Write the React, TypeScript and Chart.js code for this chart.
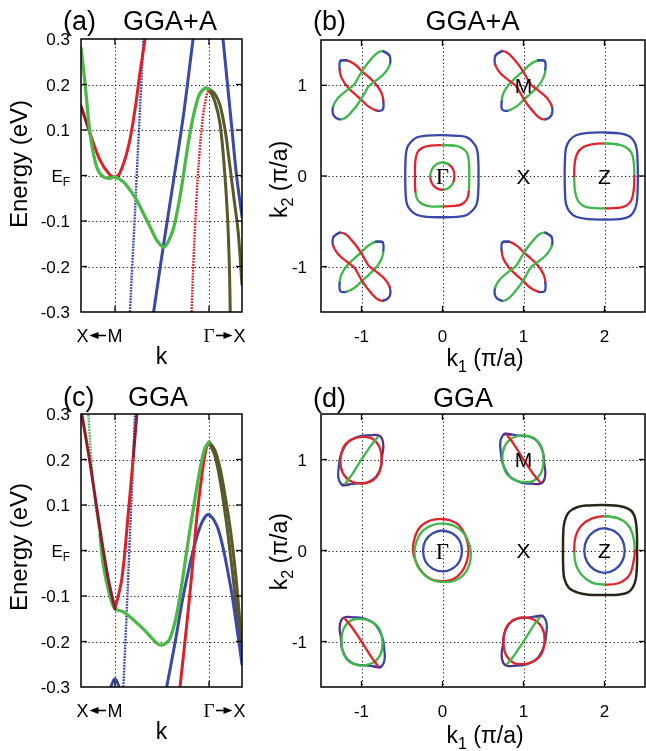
import React, { useEffect, useRef } from "react";
import { Chart, registerables } from "chart.js";

Chart.register(...registerables);

type P = [number, number];

// ================= Band-structure panels (a) and (c) =================
const kRange: P = [0, 1];
const energyRange: P = [-0.3, 0.3];
const kTicks = [0.211, 0.795]; // positions of M and Γ on the k path
const energyTicks = [-0.3, -0.2, -0.1, 0, 0.1, 0.2, 0.3];
const energyTickLabels = ["-0.3", "-0.2", "-0.1", "EF", "0.1", "0.2", "0.3"];

// (a) GGA+A  [k, E (eV)]
const aGreen: P[] = [[0, 0.28], [0.025, 0.203], [0.056, 0.093], [0.097, 0.019], [0.138, -0.003], [0.18, -0.006], [0.211, -0.003], [0.263, -0.014], [0.3, -0.03], [0.346, -0.054], [0.39, -0.085], [0.428, -0.112], [0.47, -0.142], [0.505, -0.156], [0.522, -0.156], [0.545, -0.143], [0.573, -0.118], [0.6, -0.075], [0.625, -0.025], [0.677, 0.093], [0.729, 0.173], [0.77, 0.192], [0.795, 0.19]];
const aRedM: P[] = [[0, 0.153], [0.056, 0.093], [0.118, 0.034], [0.18, 0.001], [0.211, -0.003], [0.242, 0.006], [0.294, 0.063], [0.335, 0.144], [0.366, 0.225], [0.398, 0.3]];
const aRedG: P[] = [[0.687, -0.3], [0.698, -0.193], [0.718, -0.047], [0.739, 0.063], [0.76, 0.137], [0.781, 0.177], [0.795, 0.19]];
const aBlueSteep: P[] = [[0.304, -0.3], [0.318, -0.2], [0.333, -0.1], [0.346, 0], [0.36, 0.1], [0.374, 0.2], [0.388, 0.3]];
const aBlueMid: P[] = [[0.451, -0.3], [0.511, -0.156], [0.573, -0.015], [0.635, 0.129], [0.696, 0.3]];
const aBlueRight: P[] = [[0.882, 0.3], [0.91, 0.2], [0.938, 0.1], [0.966, 0.0], [1.0, -0.09]];
const aOlive1: P[] = [[0.797, 0.19], [0.832, 0.162], [0.863, 0.115], [0.888, 0.027], [0.909, -0.083], [0.921, -0.193], [0.927, -0.3]];
const aOlive2: P[] = [[0.795, 0.19], [0.83, 0.18], [0.863, 0.155], [0.895, 0.1], [0.925, 0.02], [0.95, -0.05], [0.977, -0.127], [1.0, -0.24]];

// (c) GGA  [k, E (eV)]
const cMaroon: P[] = [[0, 0.31], [0.056, 0.193], [0.118, 0.046], [0.17, -0.064], [0.211, -0.128]];
const cRedM: P[] = [[0.211, -0.128], [0.253, -0.064], [0.294, 0.083], [0.325, 0.207], [0.346, 0.296], [0.35, 0.31]];
const cGreenSteep: P[] = [[0.045, 0.305], [0.066, 0.19], [0.09, 0.1], [0.118, 0.035]];
const cGreen: P[] = [[0.118, 0.035], [0.139, -0.034], [0.18, -0.1], [0.211, -0.128], [0.263, -0.135], [0.325, -0.152], [0.38, -0.17], [0.429, -0.188], [0.475, -0.205], [0.501, -0.208], [0.53, -0.203], [0.553, -0.193], [0.585, -0.155], [0.615, -0.1], [0.677, 0.046], [0.739, 0.178], [0.77, 0.225], [0.795, 0.238]];
const cBlueSteep: P[] = [[0.263, -0.3], [0.282, -0.15], [0.3, 0.0], [0.318, 0.15], [0.335, 0.3]];
const cBlueSmall: P[] = [[0.185, -0.3], [0.2, -0.287], [0.211, -0.282], [0.222, -0.287], [0.237, -0.3]];
const cBlue: P[] = [[0.532, -0.3], [0.584, -0.203], [0.635, -0.1], [0.698, 0.002], [0.75, 0.061], [0.793, 0.079], [0.853, 0.046], [0.925, -0.071], [0.96, -0.15], [1.0, -0.25]];
const cRed: P[] = [[0.615, -0.3], [0.656, -0.166], [0.687, -0.056], [0.718, 0.068], [0.75, 0.163], [0.776, 0.222], [0.795, 0.238]];
const cOlive1: P[] = [[0.795, 0.238], [0.83, 0.21], [0.863, 0.156], [0.9, 0.07], [0.925, 0.0], [0.946, -0.064], [0.975, -0.16], [1.0, -0.245]];
const cOlive2: P[] = [[0.795, 0.238], [0.83, 0.222], [0.863, 0.182], [0.9, 0.11], [0.93, 0.04], [0.96, -0.05], [0.985, -0.15], [1.0, -0.235]];

// ================= Fermi-surface panels (b) and (d) =================
const k1Range: P = [-1.5, 2.5];
const k2Range: P = [-1.5, 1.5];
const k1Ticks = [-1, 0, 1, 2];
const k1TickLabels = ["-1", "0", "1", "2"];
const k2Ticks = [-1, 0, 1];
const k2TickLabels = ["-1", "0", "1"];
const symLabels = ["Γ", "X", "Z", "M"];
const symK1 = [0, 1, 2, 1];
const symK2 = [0, 0, 0, 1];
const gammaCenter: P = [0, 0];
const zCenter: P = [2, 0];
const mCenters: P[] = [[-1, 1], [1, 1], [-1, -1], [1, -1]];

// contour offsets from their centre (k1, k2)
const petalLong: P[] = [[0.27, 0.375], [0.345, 0.33], [0.35, 0.23], [0.29, 0.14], [0.19, 0.06], [0.09, -0.01], [0.03, -0.1], [-0.04, -0.2], [-0.12, -0.29], [-0.2, -0.36], [-0.27, -0.375], [-0.345, -0.33], [-0.35, -0.23], [-0.29, -0.14], [-0.19, -0.06], [-0.09, 0.01], [-0.03, 0.1], [0.04, 0.2], [0.12, 0.29], [0.2, 0.36]];
const petalShort: P[] = [[-0.26, 0.27], [-0.18, 0.275], [-0.08, 0.23], [0.0, 0.16], [0.09, 0.09], [0.18, 0.01], [0.25, -0.09], [0.27, -0.18], [0.26, -0.27], [0.18, -0.275], [0.08, -0.23], [0.0, -0.16], [-0.09, -0.09], [-0.18, -0.01], [-0.25, 0.09], [-0.27, 0.18]];
const gammaOuterB: P[] = [[0, 0.45], [0.2, 0.443], [0.31, 0.423], [0.372, 0.375], [0.42, 0.31], [0.44, 0.2], [0.445, 0], [0.44, -0.2], [0.42, -0.315], [0.37, -0.38], [0.3, -0.43], [0.19, -0.45], [0, -0.455], [-0.2, -0.45], [-0.32, -0.428], [-0.39, -0.38], [-0.437, -0.315], [-0.455, -0.2], [-0.46, 0], [-0.455, 0.2], [-0.437, 0.31], [-0.39, 0.375], [-0.32, 0.425], [-0.2, 0.445]];
const gammaMidB: P[] = [[0, 0.34], [0.15, 0.335], [0.24, 0.31], [0.3, 0.26], [0.325, 0.17], [0.33, 0], [0.325, -0.17], [0.3, -0.26], [0.24, -0.31], [0.15, -0.33], [0, -0.335], [-0.15, -0.335], [-0.25, -0.31], [-0.31, -0.26], [-0.335, -0.17], [-0.34, 0], [-0.335, 0.17], [-0.31, 0.26], [-0.25, 0.31], [-0.15, 0.335]];
const gammaInB: P[] = [[0, 0.15], [0.075, 0.13], [0.13, 0.075], [0.147, 0], [0.13, -0.077], [0.075, -0.133], [0, -0.154], [-0.077, -0.133], [-0.133, -0.077], [-0.152, 0], [-0.13, 0.075], [-0.075, 0.13]];
const zOuterB: P[] = [[0, 0.48], [0.19, 0.47], [0.3, 0.44], [0.36, 0.39], [0.395, 0.31], [0.408, 0.18], [0.412, 0], [0.408, -0.18], [0.395, -0.31], [0.36, -0.395], [0.3, -0.45], [0.19, -0.475], [0, -0.48], [-0.21, -0.475], [-0.35, -0.45], [-0.43, -0.395], [-0.475, -0.31], [-0.488, -0.18], [-0.492, 0], [-0.488, 0.18], [-0.475, 0.31], [-0.43, 0.395], [-0.35, 0.45], [-0.21, 0.475]];
const zMidB: P[] = [[0, 0.36], [0.16, 0.35], [0.26, 0.32], [0.33, 0.26], [0.36, 0.16], [0.368, 0], [0.36, -0.16], [0.33, -0.27], [0.26, -0.33], [0.16, -0.352], [0, -0.356], [-0.16, -0.352], [-0.26, -0.33], [-0.33, -0.27], [-0.365, -0.16], [-0.374, 0], [-0.365, 0.16], [-0.33, 0.26], [-0.26, 0.32], [-0.16, 0.35]];

const gammaRedD: P[] = [[-0.02, 0.348], [0.1, 0.33], [0.2, 0.28], [0.28, 0.17], [0.32, 0.02], [0.3, -0.12], [0.23, -0.245], [0.12, -0.32], [0, -0.337], [-0.13, -0.32], [-0.25, -0.24], [-0.33, -0.12], [-0.366, 0], [-0.34, 0.15], [-0.27, 0.265], [-0.15, 0.33]];
const gammaGreenD: P[] = [[0, 0.297], [0.12, 0.28], [0.23, 0.22], [0.31, 0.12], [0.35, -0.02], [0.33, -0.16], [0.26, -0.27], [0.14, -0.335], [0.02, -0.348], [-0.11, -0.33], [-0.22, -0.27], [-0.31, -0.17], [-0.346, -0.03], [-0.32, 0.1], [-0.24, 0.22], [-0.12, 0.28]];
const gammaBlueD: P[] = [[0, 0.22], [0.12, 0.19], [0.21, 0.11], [0.24, 0], [0.21, -0.12], [0.12, -0.2], [0, -0.23], [-0.12, -0.2], [-0.21, -0.12], [-0.24, 0], [-0.21, 0.11], [-0.12, 0.19]];
const zOuterD: P[] = [[0, 0.5], [0.18, 0.49], [0.29, 0.46], [0.35, 0.415], [0.385, 0.33], [0.4, 0.18], [0.402, 0], [0.4, -0.18], [0.385, -0.32], [0.35, -0.405], [0.29, -0.46], [0.18, -0.485], [0, -0.49], [-0.2, -0.485], [-0.34, -0.46], [-0.44, -0.41], [-0.495, -0.31], [-0.51, -0.17], [-0.512, 0], [-0.51, 0.17], [-0.495, 0.31], [-0.44, 0.42], [-0.34, 0.475], [-0.2, 0.495]];
const zMidD: P[] = [[0, 0.377], [0.16, 0.355], [0.28, 0.29], [0.35, 0.17], [0.374, 0], [0.35, -0.16], [0.3, -0.28], [0.17, -0.36], [0, -0.374], [-0.16, -0.35], [-0.29, -0.26], [-0.355, -0.15], [-0.374, 0], [-0.355, 0.16], [-0.29, 0.27], [-0.16, 0.35]];
const zBlueD: P[] = [[0, 0.245], [0.125, 0.212], [0.217, 0.122], [0.25, 0], [0.217, -0.122], [0.125, -0.212], [0, -0.245], [-0.125, -0.212], [-0.217, -0.122], [-0.25, 0], [-0.217, 0.122], [-0.125, 0.212]];
const mCircleD: P[] = [[0.02, 0.264], [0.14, 0.23], [0.22, 0.14], [0.247, 0.0], [0.22, -0.14], [0.13, -0.23], [0.02, -0.249], [-0.11, -0.225], [-0.22, -0.14], [-0.26, 0.02], [-0.23, 0.15], [-0.13, 0.24]];
const mChordD: P[] = [[-0.2, 0.265], [-0.12, 0.17], [-0.05, 0.07], [0, 0], [0.06, -0.08], [0.13, -0.17], [0.2, -0.245]];
const mOvalD: P[] = [[-0.235, 0.28], [-0.16, 0.275], [-0.05, 0.262], [0.08, 0.25], [0.18, 0.19], [0.24, 0.08], [0.255, -0.04], [0.27, -0.15], [0.25, -0.235], [0.2, -0.268], [0.1, -0.266], [-0.02, -0.255], [-0.165, -0.19], [-0.255, -0.05], [-0.28, 0.08], [-0.285, 0.2]];

// colour codes per segment (r red, g green, b blue, p purple, k dark, m = the contour's main colour)
const petalLongCodes = "bbmmmmmmmmbbmmmmmmmm";
const petalShortCodes = "bmmmmmmbbmmmmmmb";
const gammaMidCodesB = "ggggggrrrrggggrrrrrr";
const gammaInCodesB = "grrrggrrrggg";
const zMidCodesB = "gggggrrrrrgggggrrrrr";
const zMidCodesD = "ggggrrrrggggrrrr";
const mOvalCodesD = "pbbbbpppppbbbbbb";
// orientation/colour of the pockets at the four M corners
const petalMirrorB = [1, -1, -1, 1];
const petalLongColorB = ["g", "r", "r", "g"];
const petalShortColorB = ["r", "g", "g", "r"];
const mFlipXD = [1, 1, -1, -1];
const mFlipYD = [-1, 1, -1, 1];
const mChordColorD = ["g", "r", "r", "g"];
const mCircleColorD = ["r", "g", "g", "r"];

// ================= drawing helpers =================
const SANS = '"Liberation Sans", Arial, Helvetica, sans-serif';
const SERIF = '"Liberation Serif", "Times New Roman", serif';
const BAND = { red: "#d8232b", green: "#4cb848", blue: "#3a49a6", olive: "#59582a", maroon: "#8c1c2e" };
const PAL: Record<string, string> = { r: "#e0242b", g: "#3fb74b", b: "#3949a7", p: "#5c2e85", k: "#2a2718" };

type Part = { t: string; sub?: boolean; serif?: boolean };

function drawParts(ctx: CanvasRenderingContext2D, parts: Part[], x: number, y: number, size: number, align: "left" | "center" | "right") {
  const subSize = size * 0.7;
  const fontOf = (p: Part) => `${p.sub ? subSize : size}px ${p.serif ? SERIF : SANS}`;
  const ws = parts.map((p) => {
    ctx.font = fontOf(p);
    return ctx.measureText(p.t).width;
  });
  const total = ws.reduce((s, w) => s + w, 0);
  let cx = align === "left" ? x : align === "right" ? x - total : x - total / 2;
  ctx.textAlign = "left";
  ctx.textBaseline = "alphabetic";
  parts.forEach((p, i) => {
    ctx.font = fontOf(p);
    const sz = p.sub ? subSize : size;
    const cy = p.sub ? y + size * 0.36 : y;
    ctx.fillText(p.t, cx, cy + sz * 0.358);
    cx += ws[i];
  });
}

function drawArrow(ctx: CanvasRenderingContext2D, x0: number, x1: number, y: number) {
  const d = Math.sign(x1 - x0);
  ctx.lineWidth = 1.6;
  ctx.beginPath();
  ctx.moveTo(x0, y);
  ctx.lineTo(x1 - d * 6, y);
  ctx.stroke();
  ctx.beginPath();
  ctx.moveTo(x1, y);
  ctx.lineTo(x1 - d * 9, y - 3.6);
  ctx.lineTo(x1 - d * 9, y + 3.6);
  ctx.closePath();
  ctx.fill();
}

function drawGrid(chart: any, xt: number[], yt: number[]) {
  const { ctx, chartArea: a, scales } = chart;
  ctx.save();
  ctx.strokeStyle = "#111";
  ctx.lineWidth = 1;
  ctx.setLineDash([1.2, 2.6]);
  xt.forEach((v) => {
    const x = Math.round(scales.x.getPixelForValue(v)) + 0.5;
    if (x < a.left + 2 || x > a.right - 2) return;
    ctx.beginPath();
    ctx.moveTo(x, a.top);
    ctx.lineTo(x, a.bottom);
    ctx.stroke();
  });
  yt.forEach((v) => {
    const y = Math.round(scales.y.getPixelForValue(v)) + 0.5;
    if (y < a.top + 2 || y > a.bottom - 2) return;
    ctx.beginPath();
    ctx.moveTo(a.left, y);
    ctx.lineTo(a.right, y);
    ctx.stroke();
  });
  ctx.restore();
}

function drawFrame(chart: any, xt: number[], yt: number[]) {
  const { ctx, chartArea: a, scales } = chart;
  ctx.save();
  ctx.setLineDash([]);
  ctx.strokeStyle = "#000";
  ctx.lineWidth = 1.5;
  ctx.strokeRect(a.left, a.top, a.right - a.left, a.bottom - a.top);
  ctx.lineWidth = 1.3;
  const L = 6;
  const seg = (x0: number, y0: number, x1: number, y1: number) => {
    ctx.beginPath();
    ctx.moveTo(x0, y0);
    ctx.lineTo(x1, y1);
    ctx.stroke();
  };
  xt.forEach((v) => {
    const x = scales.x.getPixelForValue(v);
    if (x < a.left + 2 || x > a.right - 2) return;
    seg(x, a.top, x, a.top + L);
    seg(x, a.bottom, x, a.bottom - L);
  });
  yt.forEach((v) => {
    const y = scales.y.getPixelForValue(v);
    if (y < a.top + 2 || y > a.bottom - 2) return;
    seg(a.left, y, a.left + L, y);
    seg(a.right, y, a.right - L, y);
  });
  ctx.restore();
}

function bandDeco(o: { letter: string; title: string; titleCX: number; titleY: number; eY: number }) {
  return {
    id: "bandDeco",
    beforeDatasetsDraw(chart: any) {
      drawGrid(chart, kTicks, energyTicks);
    },
    afterDatasetsDraw(chart: any) {
      const { ctx, chartArea: a, scales } = chart;
      drawFrame(chart, kTicks, energyTicks);
      ctx.save();
      ctx.fillStyle = "#000";
      ctx.strokeStyle = "#000";
      energyTicks.forEach((v, i) => {
        const y = scales.y.getPixelForValue(v);
        const lab = energyTickLabels[i];
        const parts: Part[] = lab === "EF" ? [{ t: "E" }, { t: "F", sub: true }] : [{ t: lab }];
        drawParts(ctx, parts, a.left - 11, y, 17, "right");
      });
      const ly = a.bottom + 23.5;
      const xM = scales.x.getPixelForValue(kTicks[0]);
      const xG = scales.x.getPixelForValue(kTicks[1]);
      ctx.font = `18px ${SANS}`;
      const wM = ctx.measureText("M").width;
      drawParts(ctx, [{ t: "M" }], xM, ly, 18, "center");
      drawArrow(ctx, xM - wM / 2 - 1.5, xM - wM / 2 - 18, ly);
      drawParts(ctx, [{ t: "X" }], xM - wM / 2 - 19, ly, 18, "right");
      ctx.font = `19px ${SERIF}`;
      const wG = ctx.measureText("Γ").width;
      drawParts(ctx, [{ t: "Γ", serif: true }], xG, ly, 19, "center");
      drawArrow(ctx, xG + wG / 2 + 1.5, xG + wG / 2 + 18, ly);
      drawParts(ctx, [{ t: "X" }], xG + wG / 2 + 19, ly, 18, "left");
      drawParts(ctx, [{ t: "k" }], (a.left + a.right) / 2, a.bottom + 43.5, 23, "center");
      ctx.save();
      ctx.translate(18, o.eY);
      ctx.rotate(-Math.PI / 2);
      drawParts(ctx, [{ t: "Energy (eV)" }], 0, 0, 24, "center");
      ctx.restore();
      drawParts(ctx, [{ t: o.letter }], 63, o.titleY, 27, "left");
      drawParts(ctx, [{ t: o.title }], o.titleCX, o.titleY, 27, "center");
      ctx.restore();
    },
  };
}

function fermiDeco(o: { letter: string; title: string; titleCX: number; titleY: number; k2Y: number; k1Y: number }) {
  return {
    id: "fermiDeco",
    beforeDatasetsDraw(chart: any) {
      drawGrid(chart, k1Ticks, k2Ticks);
    },
    afterDatasetsDraw(chart: any) {
      const { ctx, chartArea: a, scales } = chart;
      drawFrame(chart, k1Ticks, k2Ticks);
      ctx.save();
      ctx.fillStyle = "#000";
      k2Ticks.forEach((v, i) => drawParts(ctx, [{ t: k2TickLabels[i] }], a.left - 14, scales.y.getPixelForValue(v), 17, "right"));
      k1Ticks.forEach((v, i) => drawParts(ctx, [{ t: k1TickLabels[i] }], scales.x.getPixelForValue(v), a.bottom + 23.5, 17, "center"));
      symLabels.forEach((s, i) => {
        const x = scales.x.getPixelForValue(symK1[i]);
        const y = scales.y.getPixelForValue(symK2[i]);
        const serif = s === "Γ";
        drawParts(ctx, [{ t: s, serif }], x, y, serif ? 23 : 21, "center");
      });
      drawParts(ctx, [{ t: "k" }, { t: "1", sub: true }, { t: " (π/a)" }], (a.left + a.right) / 2 + 2, o.k1Y, 23, "center");
      ctx.save();
      ctx.translate(17, o.k2Y);
      ctx.rotate(-Math.PI / 2);
      drawParts(ctx, [{ t: "k" }, { t: "2", sub: true }, { t: " (π/a)" }], 0, 0, 23, "center");
      ctx.restore();
      drawParts(ctx, [{ t: o.letter }], 51, o.titleY, 27, "left");
      drawParts(ctx, [{ t: o.title }], o.titleCX, o.titleY, 27, "center");
      ctx.restore();
    },
  };
}

function bandSet(pts: P[], color: string, width: number, dash?: number[], altColor?: string, altFrom?: number, altTo?: number) {
  const ds: any = {
    data: pts.map(([x, y]) => ({ x, y })),
    showLine: true,
    fill: false,
    pointRadius: 0,
    borderColor: color,
    borderWidth: width,
    borderDash: dash ?? [],
    borderCapStyle: dash ? "butt" : "round",
    borderJoinStyle: "round",
    tension: 0.35,
  };
  if (altColor) {
    ds.segment = { borderColor: (s: any) => (s.p0DataIndex >= (altFrom ?? 0) && s.p0DataIndex < (altTo ?? 999) ? altColor : color) };
  }
  return ds;
}

interface Contour { pts: P[]; c: P; sx?: number; sy?: number; codes: string; main?: string; open?: boolean; width?: number }

function contourSet(ct: Contour) {
  const sx = ct.sx ?? 1;
  const sy = ct.sy ?? 1;
  const n = ct.pts.length;
  const data = ct.pts.map(([x, y]) => ({ x: ct.c[0] + sx * x, y: ct.c[1] + sy * y }));
  if (!ct.open) data.push({ ...data[0] }, { ...data[1] });
  const codes = ct.codes.replace(/m/g, ct.main ?? "r");
  const colorAt = (i: number) => PAL[codes.length === 1 ? codes : codes[i % n]];
  return {
    data,
    showLine: true,
    fill: false,
    pointRadius: 0,
    borderWidth: ct.width ?? 2.3,
    borderColor: colorAt(0),
    borderCapStyle: "round",
    borderJoinStyle: "round",
    tension: 0.4,
    segment: { borderColor: (s: any) => colorAt(s.p0DataIndex) },
  };
}

function makeChart(canvas: HTMLCanvasElement, datasets: any[], xr: P, yr: P, padding: any, plugin: any) {
  return new Chart(canvas, {
    type: "scatter",
    data: { datasets },
    options: {
      responsive: false,
      animation: false,
      devicePixelRatio: 1,
      events: [],
      layout: { padding },
      plugins: { legend: { display: false }, tooltip: { enabled: false } },
      elements: { point: { radius: 0 }, line: { capBezierPoints: false } },
      scales: {
        x: { type: "linear", min: xr[0], max: xr[1], display: false },
        y: { type: "linear", min: yr[0], max: yr[1], display: false },
      },
    } as any,
    plugins: [plugin],
  } as any);
}

const DOT = [1.8, 1.1];

function setsA() {
  return [
    bandSet(aGreen, BAND.green, 3.3),
    bandSet(aRedM, BAND.red, 3, undefined, BAND.maroon, 0, 1),
    bandSet(aRedG, BAND.red, 2.4, DOT),
    bandSet(aBlueMid, BAND.blue, 3),
    bandSet(aBlueSteep, BAND.blue, 2.4, DOT),
    bandSet(aBlueRight, BAND.blue, 3),
    bandSet(aOlive1, BAND.olive, 3),
    bandSet(aOlive2, BAND.olive, 3),
  ];
}

function setsC() {
  return [
    bandSet(cMaroon, BAND.maroon, 3),
    bandSet(cGreen, BAND.green, 3.3),
    bandSet(cGreenSteep, BAND.green, 2.4, DOT),
    bandSet(cRedM, BAND.red, 3, undefined, BAND.maroon, 3, 99),
    bandSet(cRed, BAND.red, 3),
    bandSet(cBlueSteep, BAND.blue, 2.4, DOT),
    bandSet(cBlueSmall, BAND.blue, 3),
    bandSet(cBlue, BAND.blue, 3),
    bandSet(cOlive1, BAND.olive, 3),
    bandSet(cOlive2, BAND.olive, 3),
  ];
}

function setsB() {
  const list: Contour[] = [];
  mCenters.forEach((c, i) => {
    list.push({ pts: petalLong, c, sx: petalMirrorB[i], codes: petalLongCodes, main: petalLongColorB[i] });
    list.push({ pts: petalShort, c, sx: petalMirrorB[i], codes: petalShortCodes, main: petalShortColorB[i] });
  });
  list.push({ pts: gammaInB, c: gammaCenter, codes: gammaInCodesB });
  list.push({ pts: gammaMidB, c: gammaCenter, codes: gammaMidCodesB });
  list.push({ pts: gammaOuterB, c: gammaCenter, codes: "b" });
  list.push({ pts: zMidB, c: zCenter, codes: zMidCodesB });
  list.push({ pts: zOuterB, c: zCenter, codes: "b" });
  return list.map(contourSet);
}

function setsD() {
  const list: Contour[] = [];
  mCenters.forEach((c, i) => {
    list.push({ pts: mChordD, c, sx: mFlipXD[i], sy: mFlipYD[i], codes: "m", main: mChordColorD[i], open: true });
    list.push({ pts: mCircleD, c, sx: mFlipXD[i], sy: mFlipYD[i], codes: "m", main: mCircleColorD[i] });
    list.push({ pts: mOvalD, c, sx: mFlipXD[i], sy: mFlipYD[i], codes: mOvalCodesD });
  });
  list.push({ pts: gammaBlueD, c: gammaCenter, codes: "b" });
  list.push({ pts: gammaGreenD, c: gammaCenter, codes: "g" });
  list.push({ pts: gammaRedD, c: gammaCenter, codes: "r" });
  list.push({ pts: zBlueD, c: zCenter, codes: "b" });
  list.push({ pts: zMidD, c: zCenter, codes: zMidCodesD });
  list.push({ pts: zOuterD, c: zCenter, codes: "k", width: 2.5 });
  return list.map(contourSet);
}

export default function App() {
  const ra = useRef<HTMLCanvasElement>(null);
  const rb = useRef<HTMLCanvasElement>(null);
  const rc = useRef<HTMLCanvasElement>(null);
  const rd = useRef<HTMLCanvasElement>(null);

  useEffect(() => {
    const charts: Chart[] = [];
    charts.push(makeChart(ra.current!, setsA(), kRange, energyRange, { left: 81, top: 39, right: 20, bottom: 63 },
      bandDeco({ letter: "(a)", title: "GGA+A", titleCX: 170, titleY: 20, eY: 164 })));
    charts.push(makeChart(rb.current!, setsB(), k1Range, k2Range, { left: 59, top: 40, right: 1, bottom: 63 },
      fermiDeco({ letter: "(b)", title: "GGA+A", titleCX: 210.5, titleY: 20, k2Y: 179.5, k1Y: 357.5 })));
    charts.push(makeChart(rc.current!, setsC(), kRange, energyRange, { left: 81, top: 39, right: 20, bottom: 64 },
      bandDeco({ letter: "(c)", title: "GGA", titleCX: 158, titleY: 21.7, eY: 172 })));
    charts.push(makeChart(rd.current!, setsD(), k1Range, k2Range, { left: 59, top: 39, right: 1, bottom: 64 },
      fermiDeco({ letter: "(d)", title: "GGA", titleCX: 201, titleY: 22.5, k2Y: 176.7, k1Y: 359.5 })));
    return () => charts.forEach((c) => c.destroy());
  }, []);

  const abs = (left: number, top: number, w: number, h: number): React.CSSProperties => ({ position: "absolute", left, top, width: w, height: h });

  return (
    <div style={{ position: "absolute", left: 0, top: 0, width: 646, height: 751, background: "#fff", overflow: "hidden" }}>
      <canvas ref={ra} width={262} height={375} style={abs(0, 0, 262, 375)} />
      <canvas ref={rb} width={384} height={375} style={abs(262, 0, 384, 375)} />
      <canvas ref={rc} width={262} height={376} style={abs(0, 375, 262, 376)} />
      <canvas ref={rd} width={384} height={376} style={abs(262, 375, 384, 376)} />
    </div>
  );
}
